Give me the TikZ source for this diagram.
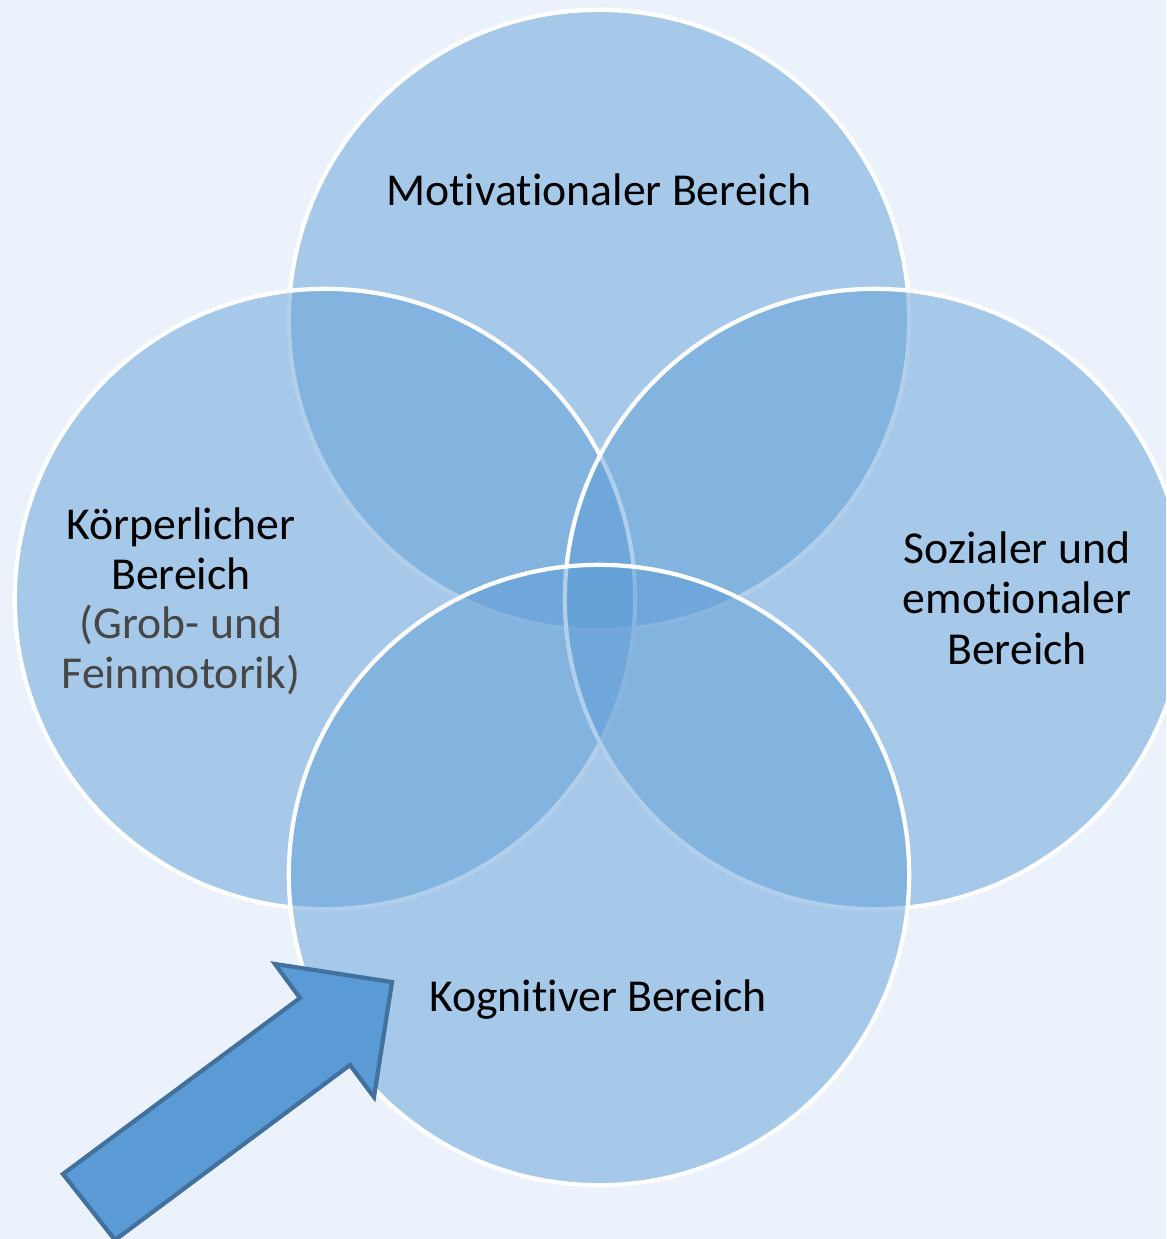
\documentclass[tikz,border=0pt]{standalone}
\usepackage{fontspec}
\setmainfont{Carlito}[Ligatures=NoCommon]
\usepackage{xcolor}
\usepackage{tikz}
\definecolor{bluefill}{HTML}{5B9BD5}
\definecolor{blueline}{HTML}{41719C}
\definecolor{bgtint}{HTML}{ECF2FB}
\tikzset{
  bereich/.style={circle, minimum size=6.2cm, fill=bluefill, fill opacity=0.47, draw=white, draw opacity=1, line width=1.2pt},
  label/.style={align=center, font=\fontsize{13}{14.3}\selectfont, text=black, text opacity=1},
  sublabel/.style={align=center, font=\fontsize{13}{14}\selectfont, text=black!72}
}
\begin{document}
\begin{tikzpicture}[x=0.01cm, y=-0.01cm]
    \useasboundingbox (0,0) rectangle (1166,1239);
    \clip (0,0) rectangle (1166,1239);
    \fill[bgtint] (0,0) rectangle (1166,1239);
    % four circles
    \node[bereich] (mot) at (599,320) {};
    \node[bereich] (koerper) at (325,599) {};
    \node[bereich] (sozial) at (875,599) {};
    \node[bereich] (kogn) at (599,875) {};
    % texts
    \node[label] (motText) at (599,190) {Motivationaler Bereich};
    \node[label] (koerperText) at (181,549) {Körperlicher\\Bereich};
    \node[sublabel] (koerperSub) at (181,650) {(Grob- und\\Feinmotorik)};
    \node[label] (sozialText) at (1017,598) {Sozialer und\\emotionaler\\Bereich};
    \node[label] (kognText) at (598,1000) {Kognitiver Bereich};
    % arrow
    \filldraw[fill=bluefill, draw=blueline, line width=1.2pt, line join=miter]
      (63,1174) -- (300,998) -- (275,964) -- (392,982)
      -- (374,1097) -- (350,1065) -- (115,1240) -- cycle;
  \end{tikzpicture}
\end{document}
